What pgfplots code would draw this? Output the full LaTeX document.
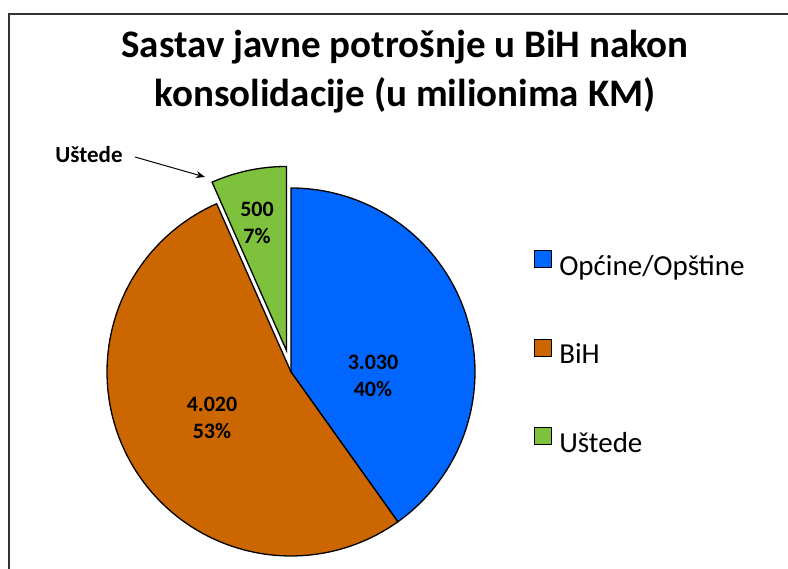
\documentclass[border=0pt]{standalone}
\usepackage{pgfplots}
\usepackage{pgfplotstable}
\pgfplotsset{compat=1.18}
\usetikzlibrary{arrows.meta}
\usepackage{fontspec}
\setmainfont{Carlito}
\definecolor{pieblue}{HTML}{0066FF}
\definecolor{pieorange}{HTML}{CC6600}
\definecolor{piegreen}{HTML}{7EC13C}
\definecolor{framegray}{HTML}{333333}

\pgfplotstableread{
name   value
Opcine 3030
BiH    4020
Ustede 500
}\pietable

\begin{document}
\begin{tikzpicture}
\pgfplotstablegetelem{0}{value}\of\pietable \let\vA\pgfplotsretval
\pgfplotstablegetelem{1}{value}\of\pietable \let\vB\pgfplotsretval
\pgfplotstablegetelem{2}{value}\of\pietable \let\vC\pgfplotsretval
\pgfmathsetmacro\tot{\vA+\vB+\vC}
\pgfmathsetmacro\aA{90}
\pgfmathsetmacro\aB{\aA-360*(\vA/\tot)}
\pgfmathsetmacro\aC{\aB-360*(\vB/\tot)}
\pgfmathsetmacro\aD{\aC-360*(\vC/\tot)}
\pgfmathsetmacro\amid{(\aC+\aD)/2}
\def\cx{291}\def\cy{197}\def\pr{184}
% exploded slice
\pgfmathsetmacro\gx{\cx+22*cos(\amid)}
\pgfmathsetmacro\gy{\cy+22*sin(\amid)}
\begin{axis}[
  at={(0,0)}, anchor=south west, scale only axis,
  width=788pt, height=569pt,
  xmin=0, xmax=788, ymin=0, ymax=569,
  hide axis, clip=false,
  legend image code/.code={\draw[#1, line width=0.8pt] (0pt,1pt) rectangle (17pt,18pt); \path (22pt,0pt);},
  legend cell align=left,
  legend style={draw=none, fill=none, inner sep=0pt,
    at={(axis cs:534,319.5)}, anchor=north west,
    font=\fontsize{29}{35}\selectfont, row sep=54.5pt,
    nodes={inner sep=2pt, text height=21pt, text depth=7pt}},
]
  \addplot[fill=pieblue, draw=black, line width=1.3pt, domain=\aB:\aA, samples=80, variable=\t]
    ({\cx+\pr*cos(\t)}, {\cy+\pr*sin(\t)}) -- (axis cs:\cx,\cy) -- cycle;
  \addlegendentry{Općine/Opštine}
  \addplot[fill=pieorange, draw=black, line width=1.3pt, domain=\aC:\aB, samples=100, variable=\t]
    ({\cx+\pr*cos(\t)}, {\cy+\pr*sin(\t)}) -- (axis cs:\cx,\cy) -- cycle;
  \addlegendentry{BiH}
  \addplot[fill=piegreen, draw=black, line width=1.3pt, domain=\aD:\aC, samples=30, variable=\t]
    ({\gx+\pr*cos(\t)}, {\gy+\pr*sin(\t)}) -- (axis cs:\gx,\gy) -- cycle;
  \addlegendentry{Uštede}

  % frame
  \draw[framegray, line width=1.5pt] (axis cs:9,0) -- (axis cs:9,555) -- (axis cs:788,555);
  % title
  \node[font=\fontsize{39}{49}\selectfont\bfseries, align=center] at (axis cs:405,497)
    {Sastav javne potrošnje u BiH nakon\\konsolidacije (u milionima KM)};
  % data labels
  \node[font=\fontsize{22}{27}\selectfont\bfseries, align=center] at (axis cs:373,193) {3.030\\40\%};
  \node[font=\fontsize{22}{27}\selectfont\bfseries, align=center] at (axis cs:212,151) {4.020\\53\%};
  \node[font=\fontsize{22}{27}\selectfont\bfseries, align=center] at (axis cs:257,346) {500\\7\%};
  % callout
  \node[font=\fontsize{23}{28}\selectfont\bfseries] at (axis cs:89,414) {Uštede};
  \draw[-{Stealth[length=9pt,width=7pt]}, line width=1pt] (axis cs:135,412) -- (axis cs:205,392);
\end{axis}
\pgfresetboundingbox
\useasboundingbox (0,0) rectangle (788pt,569pt);
\end{tikzpicture}
\end{document}
